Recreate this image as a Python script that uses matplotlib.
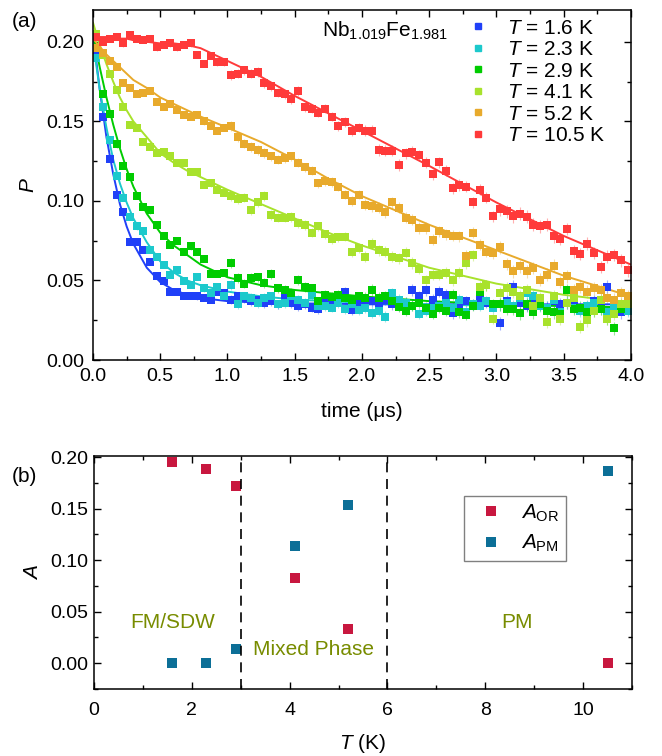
import numpy as np
import matplotlib
matplotlib.use('Agg')
import matplotlib.pyplot as plt
from matplotlib.lines import Line2D
from matplotlib.colors import to_rgba

plt.rcParams['font.family'] = ['Liberation Sans', 'DejaVu Sans']
plt.rcParams['mathtext.fontset'] = 'custom'
plt.rcParams['mathtext.rm'] = 'Liberation Sans'
plt.rcParams['mathtext.it'] = 'Liberation Sans:italic'
plt.rcParams['mathtext.bf'] = 'Liberation Sans:bold'

# ---- panel (a): muon polarization vs time ----
time_us = np.arange(0.025, 4.0, 0.05)  # 80 time bins
temps = ['1.6', '2.3', '2.9', '4.1', '5.2', '10.5']
colors = ['#2040f8', '#1cc9cc', '#00cc00', '#a8e22c', '#e8aa2c', '#ff3a3a']

P_1p6 = [0.193, 0.153, 0.1265, 0.104, 0.093, 0.0742, 0.0742, 0.0694, 0.0616, 0.0525,
         0.0498, 0.043, 0.043, 0.0405, 0.0405, 0.040, 0.039, 0.038, 0.043, 0.042,
         0.038, 0.040, 0.039, 0.037, 0.038, 0.036, 0.037, 0.035, 0.039, 0.036,
         0.034, 0.035, 0.033, 0.032, 0.036, 0.035, 0.037, 0.043, 0.0315, 0.036,
         0.034, 0.037, 0.036, 0.038, 0.035, 0.034, 0.036, 0.044, 0.040, 0.0437,
         0.038, 0.043, 0.041, 0.0294, 0.033, 0.037, 0.035, 0.038, 0.036, 0.034,
         0.023, 0.037, 0.046, 0.036, 0.034, 0.035, 0.036, 0.033, 0.037, 0.035,
         0.036, 0.034, 0.032, 0.033, 0.037, 0.035, 0.046, 0.036, 0.030, 0.032]
P_2p3 = [0.190, 0.159, 0.138, 0.1156, 0.102, 0.090, 0.084, 0.081, 0.0694, 0.0647,
         0.060, 0.0536, 0.0563, 0.0498, 0.047, 0.052, 0.045, 0.042, 0.046, 0.0405,
         0.047, 0.035, 0.040, 0.039, 0.036, 0.039, 0.040, 0.035, 0.036, 0.040,
         0.038, 0.036, 0.041, 0.034, 0.034, 0.033, 0.036, 0.032, 0.035, 0.0315,
         0.033, 0.0296, 0.031, 0.0273, 0.042, 0.038, 0.036, 0.034, 0.029, 0.031,
         0.033, 0.034, 0.036, 0.033, 0.038, 0.030, 0.035, 0.034, 0.037, 0.033,
         0.035, 0.036, 0.034, 0.039, 0.042, 0.040, 0.034, 0.033, 0.038, 0.030,
         0.036, 0.033, 0.031, 0.034, 0.036, 0.032, 0.030, 0.034, 0.033, 0.031]
P_2p9 = [0.196, 0.167, 0.1545, 0.1355, 0.122, 0.115, 0.103, 0.096, 0.094, 0.085,
         0.078, 0.0725, 0.0746, 0.068, 0.0714, 0.068, 0.0637, 0.054, 0.054, 0.055,
         0.061, 0.0517, 0.048, 0.0517, 0.052, 0.0485, 0.054, 0.045, 0.044, 0.042,
         0.0504, 0.046, 0.045, 0.0368, 0.041, 0.0397, 0.041, 0.039, 0.038, 0.040,
         0.039, 0.044, 0.039, 0.040, 0.037, 0.0336, 0.031, 0.034, 0.036, 0.033,
         0.029, 0.033, 0.031, 0.041, 0.030, 0.0284, 0.034, 0.043, 0.047, 0.035,
         0.035, 0.032, 0.032, 0.0294, 0.035, 0.030, 0.035, 0.031, 0.030, 0.029,
         0.044, 0.032, 0.033, 0.030, 0.031, 0.032, 0.026, 0.020, 0.032, 0.038]
P_4p1 = [0.205, 0.192, 0.180, 0.170, 0.159, 0.148, 0.146, 0.137, 0.134, 0.130,
         0.131, 0.128, 0.124, 0.124, 0.118, 0.118, 0.110, 0.111, 0.107, 0.105,
         0.103, 0.101, 0.102, 0.094, 0.099, 0.103, 0.091, 0.0895, 0.0895, 0.090,
         0.086, 0.085, 0.080, 0.084, 0.079, 0.076, 0.077, 0.0776, 0.0677, 0.0705,
         0.065, 0.073, 0.069, 0.068, 0.065, 0.064, 0.0675, 0.061, 0.0574, 0.050,
         0.0536, 0.0536, 0.0549, 0.050, 0.0549, 0.061, 0.0658, 0.046, 0.047, 0.026,
         0.042, 0.045, 0.043, 0.040, 0.044, 0.034, 0.039, 0.024, 0.040, 0.026,
         0.036, 0.039, 0.021, 0.025, 0.031, 0.038, 0.026, 0.029, 0.035, 0.035]
P_5p2 = [0.196, 0.193, 0.188, 0.184, 0.174, 0.171, 0.167, 0.168, 0.169, 0.162,
         0.159, 0.161, 0.157, 0.154, 0.153, 0.154, 0.150, 0.147, 0.144, 0.146,
         0.147, 0.140, 0.136, 0.134, 0.132, 0.130, 0.128, 0.126, 0.127, 0.128,
         0.124, 0.121, 0.119, 0.111, 0.1124, 0.112, 0.109, 0.104, 0.100, 0.104,
         0.0977, 0.0967, 0.0956, 0.093, 0.099, 0.0956, 0.0893, 0.0883, 0.083, 0.083,
         0.0757, 0.081, 0.079, 0.078, 0.0778, 0.0656, 0.080, 0.0725, 0.068, 0.067,
         0.0708, 0.0603, 0.0557, 0.059, 0.0557, 0.0578, 0.0504, 0.0536, 0.0593, 0.049,
         0.0525, 0.044, 0.046, 0.043, 0.045, 0.044, 0.039, 0.038, 0.042, 0.040]
P_10p5 = [0.203, 0.200, 0.2018, 0.203, 0.199, 0.204, 0.202, 0.201, 0.202, 0.1965,
          0.198, 0.199, 0.1965, 0.198, 0.199, 0.192, 0.186, 0.191, 0.187, 0.187,
          0.179, 0.180, 0.182, 0.180, 0.181, 0.174, 0.172, 0.168, 0.167, 0.164,
          0.169, 0.159, 0.158, 0.1555, 0.158, 0.153, 0.147, 0.1497, 0.1437, 0.146,
          0.144, 0.144, 0.132, 0.1315, 0.1315, 0.1226, 0.130, 0.131, 0.1286, 0.124,
          0.1166, 0.1244, 0.119, 0.108, 0.110, 0.109, 0.099, 0.107, 0.102, 0.0904,
          0.0946, 0.0935, 0.0904, 0.092, 0.090, 0.085, 0.084, 0.085, 0.0777, 0.076,
          0.0824, 0.0683, 0.0666, 0.073, 0.0673, 0.0584, 0.065, 0.066, 0.0626, 0.0563]
P_err = [0.002] * 20 + [0.003] * 20 + [0.0035] * 20 + [0.004] * 20

fit_t = [0, 0.05, 0.1, 0.15, 0.2, 0.25, 0.3, 0.4, 0.5, 0.6, 0.7, 0.8,
         1.0, 1.25, 1.5, 1.75, 2.0, 2.5, 3.0, 3.5, 4.0]
fit_1p6 = [0.205, 0.170, 0.140, 0.117, 0.098, 0.084, 0.073, 0.058, 0.049, 0.044, 0.041, 0.039,
           0.037, 0.036, 0.0355, 0.0355, 0.035, 0.035, 0.035, 0.035, 0.035]
fit_2p3 = [0.200, 0.170, 0.146, 0.126, 0.111, 0.099, 0.089, 0.074, 0.062, 0.055, 0.050, 0.047,
           0.043, 0.040, 0.038, 0.037, 0.036, 0.035, 0.034, 0.034, 0.033]
fit_2p9 = [0.205, 0.184, 0.165, 0.148, 0.133, 0.120, 0.109, 0.092, 0.080, 0.072, 0.066, 0.060,
           0.052, 0.047, 0.044, 0.042, 0.040, 0.037, 0.035, 0.034, 0.033]
fit_4p1 = [0.212, 0.198, 0.186, 0.175, 0.165, 0.157, 0.150, 0.140, 0.130, 0.124, 0.119, 0.115,
           0.107, 0.098, 0.089, 0.080, 0.072, 0.058, 0.048, 0.041, 0.036]
fit_5p2 = [0.202, 0.197, 0.192, 0.188, 0.184, 0.180, 0.176, 0.171, 0.165, 0.161, 0.157, 0.153,
           0.146, 0.137, 0.126, 0.114, 0.103, 0.085, 0.069, 0.053, 0.040]
fit_10p5 = [0.203, 0.203, 0.203, 0.203, 0.202, 0.202, 0.201, 0.200, 0.199, 0.199, 0.198, 0.196,
            0.188, 0.178, 0.166, 0.155, 0.144, 0.122, 0.099, 0.078, 0.060]

# ---- panel (b): asymmetries vs temperature ----
T_K = [1.6, 2.3, 2.9, 4.1, 5.2, 10.5]
A_OR = [0.195, 0.188, 0.172, 0.083, 0.033, 0.000]
A_PM = [0.000, 0.000, 0.0135, 0.114, 0.1535, 0.1865]

data_series = [P_1p6, P_2p3, P_2p9, P_4p1, P_5p2, P_10p5]
fit_series = [fit_1p6, fit_2p3, fit_2p9, fit_4p1, fit_5p2, fit_10p5]

fig = plt.figure(figsize=(6.62, 7.56), dpi=100)
ax1 = fig.add_axes([0.1405, 0.5238, 0.8125, 0.4630])
ax2 = fig.add_axes([0.142, 0.0886, 0.8127, 0.3082])

for P, c in zip(data_series, colors):
    ax1.errorbar(time_us, P, yerr=P_err, fmt='s', ms=6, color=c, mew=0,
                 ecolor=to_rgba(c, 0.4), elinewidth=0.8, capsize=2.8, capthick=0.8)
for fit, c in zip(fit_series, colors):
    ax1.plot(fit_t, fit, '-', color=c, lw=1.4)

ax1.set_xlim(0, 4)
ax1.set_ylim(0, 0.22)
ax1.set_xticks(np.arange(0, 4.01, 0.5))
ax1.set_xticks(np.arange(0, 4.01, 0.25), minor=True)
ax1.set_yticks(np.arange(0, 0.201, 0.05))
ax1.set_yticks(np.arange(0, 0.22, 0.025), minor=True)
ax1.xaxis.set_major_formatter(matplotlib.ticker.FormatStrFormatter('%.1f'))
ax1.yaxis.set_major_formatter(matplotlib.ticker.FormatStrFormatter('%.2f'))
ax1.set_xlabel('time (μs)', fontsize=15, labelpad=12)
ax1.set_ylabel('$P$', fontsize=15, labelpad=6)
ax1.tick_params(axis='both', which='both', direction='in', top=True, right=True,
                labelsize=14, width=1)
ax1.tick_params(axis='both', which='major', length=5, pad=6)
ax1.tick_params(axis='both', which='minor', length=3)
ax1.text(1.70, 0.203, r'Nb$_{1.019}$Fe$_{1.981}$', fontsize=15, va='baseline')

handles = [Line2D([], [], marker='s', ls='none', color=c, ms=4.5) for c in colors]
labels = [r'$T$ = %s K' % t for t in temps]
ax1.legend(handles, labels, loc='upper left', bbox_to_anchor=(0.696, 0.975),
           frameon=False, fontsize=15, handlelength=1.0, handletextpad=0.9,
           labelspacing=0.12, borderpad=0, borderaxespad=0)

ax2.plot(T_K, A_OR, 's', color='#c8173f', ms=7, mew=0, label=r'$A_{\rm OR}$')
ax2.plot(T_K, A_PM, 's', color='#0c6f97', ms=7, mew=0, label=r'$A_{\rm PM}$')
ax2.axvline(3, color='black', ls=(0, (6, 4)), lw=1.2)
ax2.axvline(6, color='black', ls=(0, (6, 4)), lw=1.2)

olive = '#788c00'
ax2.text(1.6, 0.0396, 'FM/SDW', color=olive, fontsize=15, ha='center', va='center')
ax2.text(4.48, 0.0135, 'Mixed Phase', color=olive, fontsize=15, ha='center', va='center')
ax2.text(8.65, 0.0396, 'PM', color=olive, fontsize=15, ha='center', va='center')

ax2.set_xlim(0, 11)
ax2.set_ylim(-0.025, 0.201)
ax2.set_xticks([0, 2, 4, 6, 8, 10])
ax2.set_xticks(np.arange(0, 11.1, 1), minor=True)
ax2.set_yticks(np.arange(0, 0.201, 0.05))
ax2.set_yticks(np.arange(-0.025, 0.201, 0.025), minor=True)
ax2.yaxis.set_major_formatter(matplotlib.ticker.FormatStrFormatter('%.2f'))
ax2.set_xlabel('$T$ (K)', fontsize=15, labelpad=10)
ax2.set_ylabel('$A$', fontsize=15, labelpad=6)
ax2.tick_params(axis='both', which='both', direction='in', top=True, right=True,
                labelsize=14, width=1)
ax2.tick_params(axis='both', which='major', length=5)
ax2.tick_params(axis='x', which='major', pad=9)
ax2.tick_params(axis='y', which='major', pad=4)
ax2.tick_params(axis='both', which='minor', length=3)
leg = ax2.legend(loc='upper left', bbox_to_anchor=(0.688, 0.828), fontsize=15,
                 handlelength=2.0, handletextpad=0.45, labelspacing=0.45,
                 borderpad=0.3, borderaxespad=0, fancybox=False, framealpha=1,
                 edgecolor='#808080')
leg.get_frame().set_linewidth(1.0)

for ax in (ax1, ax2):
    for s in ax.spines.values():
        s.set_linewidth(1.1)

fig.text(0.018, 0.971, '(a)', fontsize=15, va='center')
fig.text(0.018, 0.370, '(b)', fontsize=15, va='center')

fig.savefig('out.png', dpi=100)
